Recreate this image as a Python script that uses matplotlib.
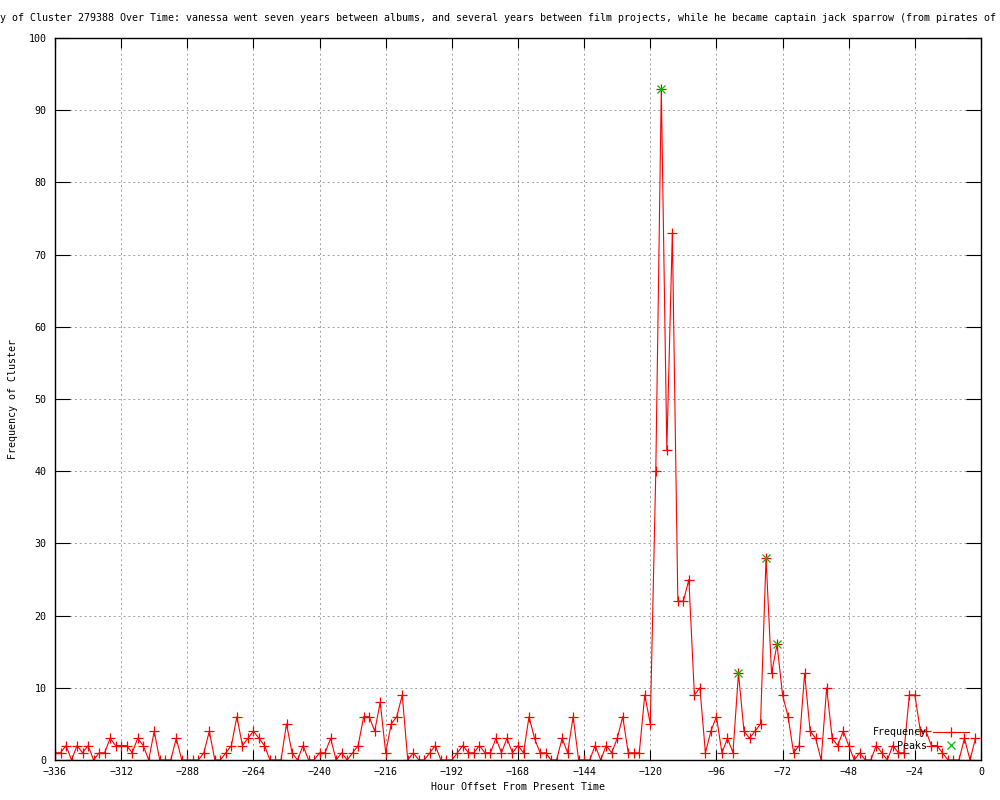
import matplotlib
matplotlib.use('Agg')
import matplotlib.pyplot as plt
import numpy as np

# hour offsets (every 2 hours) and cluster counts
hours = list(range(-336, 0, 2))
freq = [1, 1, 2, 0, 2, 1, 2, 0, 1, 1, 3, 2, 2, 2, 1, 3, 2, 0, 4, 0,
        0, 0, 3, 0, 0, 0, 0, 1, 4, 0, 0, 1, 2, 6, 2, 3, 4, 3, 2, 0,
        0, 0, 5, 1, 0, 2, 0, 0, 1, 1, 3, 0, 1, 0, 1, 2, 6, 6, 4, 8,
        1, 5, 6, 9, 0, 1, 0, 0, 1, 2, 0, 0, 0, 1, 2, 1, 1, 2, 1, 1,
        3, 1, 3, 1, 2, 1, 6, 3, 1, 1, 0, 0, 3, 1, 6, 0, 0, 0, 2, 0,
        2, 1, 3, 6, 1, 1, 1, 9, 5, 40, 93, 43, 73, 22, 22, 25, 9, 10, 1, 4,
        6, 1, 3, 1, 12, 4, 3, 4, 5, 28, 12, 16, 9, 6, 1, 2, 12, 4, 3, 0,
        10, 3, 2, 4, 2, 0, 1, 0, 0, 2, 1, 0, 2, 1, 1, 9, 9, 4, 4, 2,
        2, 1, 0, 0, 0, 3, 0, 3]

peak_hours = [-116, -88, -78, -74]
peak_vals = [93, 12, 28, 16]

title = ("y of Cluster 279388 Over Time: vanessa went seven years between albums, "
         "and several years between film projects, while he became captain jack "
         "sparrow (from pirates of")

font = 'DejaVu Sans Mono'
fs = 7.2

fig = plt.figure(figsize=(10, 8), dpi=100)
ax = fig.add_axes([0.055, 0.05, 0.926, 0.9025])

ax.plot(hours, freq, color='#ff0000', lw=0.8, marker='+', ms=6.5, mew=0.9,
        label='Frequency')
ax.plot(peak_hours, peak_vals, ls='none', color='#00c000', marker='x', ms=5.5,
        mew=0.9, label='Peaks')

ax.set_xlim(-336, 0)
ax.set_ylim(0, 100)
ax.set_xticks(np.arange(-336, 1, 24))
ax.set_yticks(np.arange(0, 101, 10))
ax.grid(True, color='#a0a0a0', ls=(0, (2, 3)), lw=0.7)
ax.tick_params(axis='both', direction='in', top=True, right=True,
               labelsize=fs, color='black')
ax.tick_params(axis='y', length=11, pad=6)
ax.tick_params(axis='x', length=7.5, pad=5)
for lab in ax.get_xticklabels() + ax.get_yticklabels():
    lab.set_family(font)
for s in ax.spines.values():
    s.set_linewidth(1)

ax.set_xlabel('Hour Offset From Present Time', family=font, fontsize=fs, labelpad=4)
ax.set_ylabel('Frequency of Cluster', family=font, fontsize=fs, labelpad=8)

fig.text(0.0, 0.977, title, family=font, fontsize=fs, ha='left', va='center')

leg = ax.legend(loc='lower right', bbox_to_anchor=(0.992, 0.006), frameon=False,
                markerfirst=False, numpoints=1, handlelength=3.6,
                labelspacing=0.35, borderpad=0, handletextpad=0.6,
                prop={'family': font, 'size': fs})
for t in leg.get_texts():
    t.set_ha('right')

fig.savefig('out.png', dpi=100)
